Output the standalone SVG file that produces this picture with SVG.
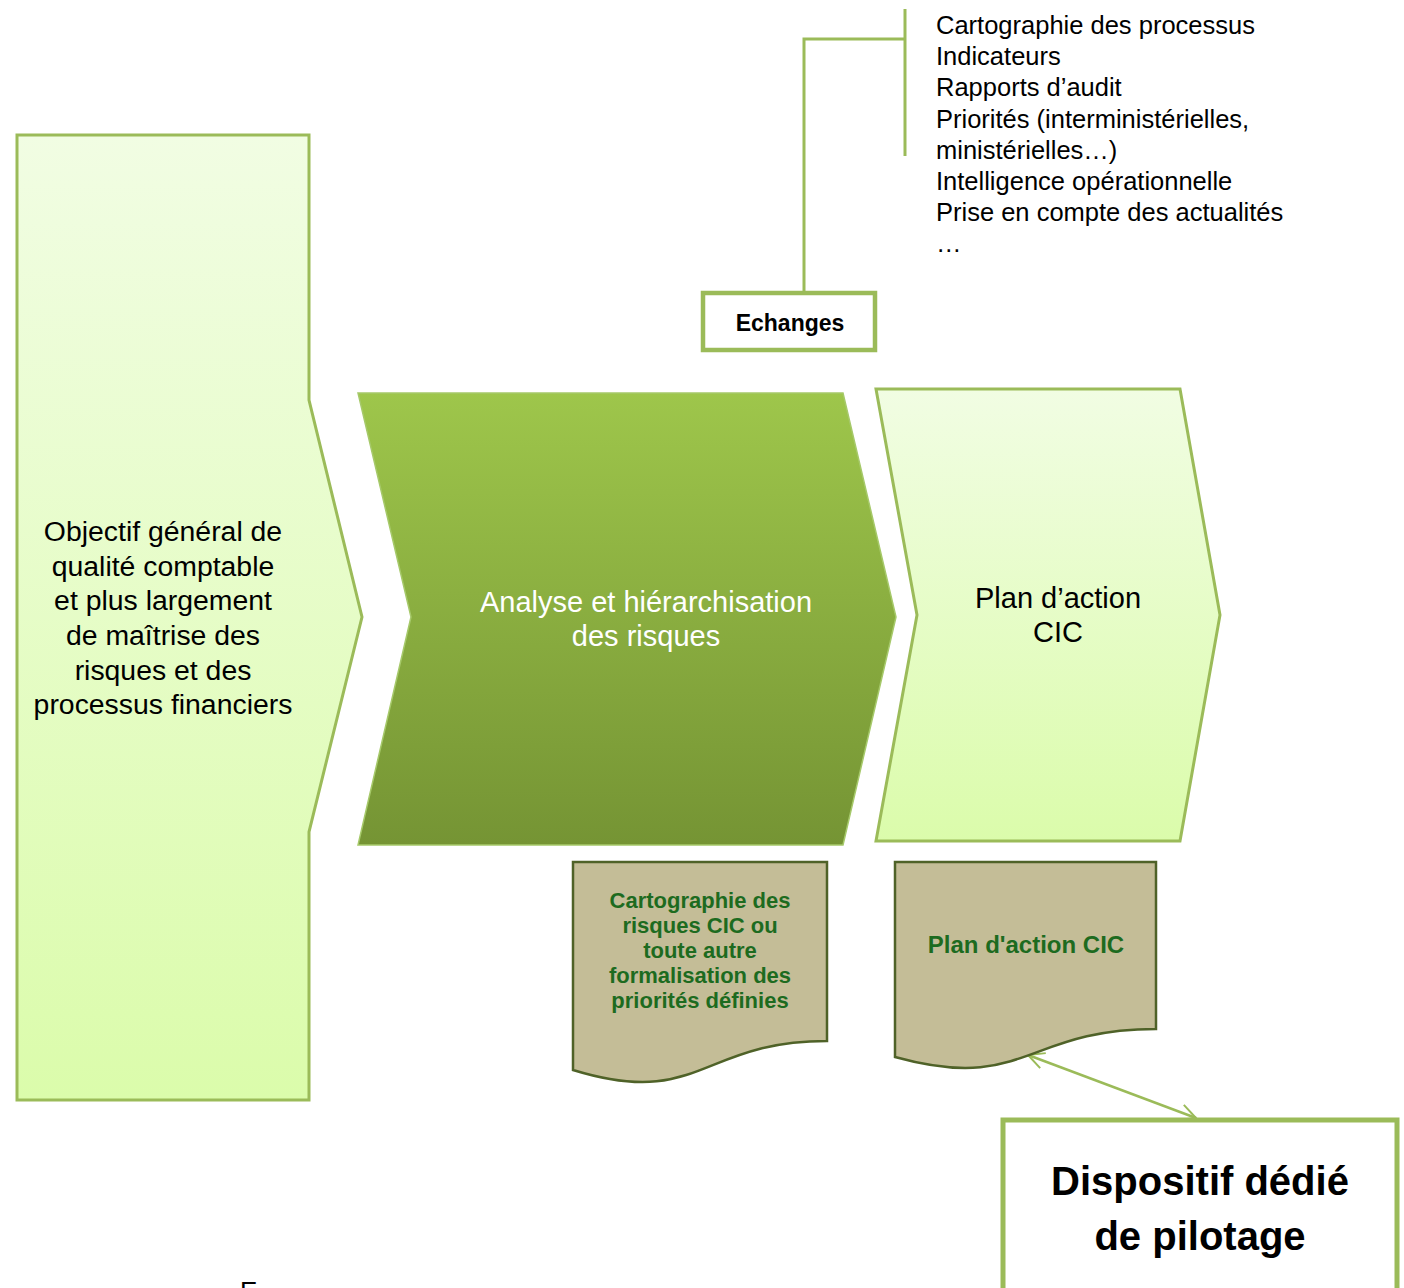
<svg xmlns="http://www.w3.org/2000/svg" width="1404" height="1288" viewBox="0 0 1404 1288">
<style>
.txt{font-family:"Liberation Sans",Arial,sans-serif;fill:#000}
.list{font-size:25.5px}
.big{font-size:29px;text-anchor:middle}
.left{font-size:28.4px}
.doc{fill:#c4bd97;stroke:#4f6228;stroke-width:2.5}
.doctxt{font-family:"Liberation Sans",Arial,sans-serif;font-weight:bold;fill:#1d6b1f;text-anchor:middle}
.green{stroke:#9bbb59;fill:none}
</style>
<defs>
<linearGradient id="light" x1="0" y1="0" x2="0" y2="1">
<stop offset="0" stop-color="#f1fde3"/>
<stop offset="1" stop-color="#dbfcab"/>
</linearGradient>
<linearGradient id="dark" x1="0" y1="0" x2="0" y2="1">
<stop offset="0" stop-color="#9ec64b"/>
<stop offset="1" stop-color="#759434"/>
</linearGradient>
<marker id="open" viewBox="0 0 20 20" refX="18" refY="10" markerWidth="20" markerHeight="20" markerUnits="userSpaceOnUse" orient="auto-start-reverse">
<path d="M2,2 L18,10 L2,18" fill="none" stroke="#9bbb59" stroke-width="2"/>
</marker>
</defs>

<g id="connectors">
<path class="green" stroke-width="3" d="M905,9 V156"/>
<path class="green" stroke-width="3" d="M905,39 H804 V292"/>
<line x1="1028" y1="1055" x2="1196" y2="1118" stroke="#9bbb59" stroke-width="2.5" marker-start="url(#open)" marker-end="url(#open)"/>
</g>

<g id="sources">
<text class="txt list" x="936" y="34">Cartographie des processus</text>
<text class="txt list" x="936" y="65">Indicateurs</text>
<text class="txt list" x="936" y="96">Rapports d’audit</text>
<text class="txt list" x="936" y="128">Priorités (interministérielles,</text>
<text class="txt list" x="936" y="159">ministérielles…)</text>
<text class="txt list" x="936" y="190">Intelligence opérationnelle</text>
<text class="txt list" x="936" y="221">Prise en compte des actualités</text>
<text class="txt list" x="936" y="252">…</text>
</g>

<g id="echanges">
<rect x="703" y="293" width="172" height="57" fill="#fff" stroke="#9bbb59" stroke-width="4.5"/>
<text class="txt" x="790" y="331" font-size="23" font-weight="bold" text-anchor="middle">Echanges</text>
</g>

<g id="objectif">
<path d="M17,135 H309 V400 L362,617 L309,832 V1100 H17 Z" fill="url(#light)" stroke="#9bbb59" stroke-width="3"/>
<text class="txt big left" x="163" y="541">Objectif général de</text>
<text class="txt big left" x="163" y="576">qualité comptable</text>
<text class="txt big left" x="163" y="610">et plus largement</text>
<text class="txt big left" x="163" y="645">de maîtrise des</text>
<text class="txt big left" x="163" y="680">risques et des</text>
<text class="txt big left" x="163" y="714">processus financiers</text>
</g>

<g id="analyse">
<path d="M358,393 H843 L896,617 L843,845 H358 L411,617 Z" fill="url(#dark)" stroke="#a6c96a" stroke-width="1.5"/>
<text class="txt big" x="646" y="612" style="fill:#fff">Analyse et hiérarchisation</text>
<text class="txt big" x="646" y="646" style="fill:#fff">des risques</text>
</g>

<g id="plan">
<path d="M876,389 H1180 L1220,615 L1180,841 H876 L917,615 Z" fill="url(#light)" stroke="#9bbb59" stroke-width="3"/>
<text class="txt big" x="1058" y="608">Plan d’action</text>
<text class="txt big" x="1058" y="642">CIC</text>
</g>

<g id="doc-cartographie">
<path class="doc" d="M573,862 H827 V1041 C700,1041 700,1109 573,1070 Z"/>
<text class="doctxt" font-size="22" x="700" y="908">Cartographie des</text>
<text class="doctxt" font-size="22" x="700" y="933">risques CIC ou</text>
<text class="doctxt" font-size="22" x="700" y="958">toute autre</text>
<text class="doctxt" font-size="22" x="700" y="983">formalisation des</text>
<text class="doctxt" font-size="22" x="700" y="1008">priorités définies</text>
</g>

<g id="doc-plan">
<path class="doc" d="M895,862 H1156 V1029 C1025,1029 1025,1093 895,1057 Z"/>
<text class="doctxt" font-size="24" x="1026" y="953">Plan d'action CIC</text>
</g>

<g id="dispositif">
<rect x="1003" y="1120" width="394" height="200" fill="#fff" stroke="#9bbb59" stroke-width="5"/>
<text class="txt" x="1200" y="1195" font-size="40" font-weight="bold" text-anchor="middle">Dispositif dédié</text>
<text class="txt" x="1200" y="1250" font-size="40" font-weight="bold" text-anchor="middle">de pilotage</text>
</g>

<text class="txt" x="240" y="1300" font-size="26">E</text>
</svg>
